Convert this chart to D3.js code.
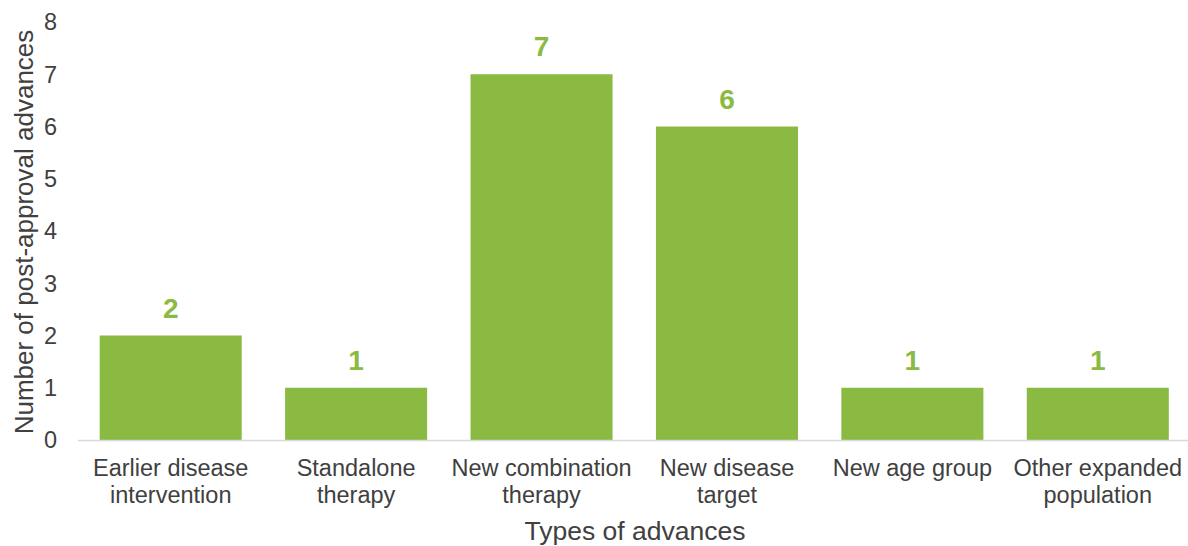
<!DOCTYPE html>
<html>
<head>
<meta charset="utf-8">
<script src="https://cdn.jsdelivr.net/npm/d3@7"></script>
<style>
  body { margin: 0; background: #fff; }
  svg { display: block; font-family: "Liberation Sans", Arial, sans-serif; }
</style>
</head>
<body>
<svg width="1188" height="546"></svg>
<script>
let categories = [
  ['Earlier disease', 'intervention'],
  ['Standalone', 'therapy'],
  ['New combination', 'therapy'],
  ['New disease', 'target'],
  ['New age group'],
  ['Other expanded', 'population']
];
let values = [2, 1, 7, 6, 1, 1];
let yTicks = [0, 1, 2, 3, 4, 5, 6, 7, 8];

let green = '#8aba42';
let textColor = '#404040';

let svg = d3.select('svg');

let xScale = d3.scaleBand()
  .domain(d3.range(categories.length))
  .range([78, 1190.5])
  .paddingInner(0.234)
  .paddingOuter(0.117);

let yScale = d3.scaleLinear()
  .domain([0, 8])
  .range([440, 22]);

// y tick labels
svg.append('g')
  .selectAll('text')
  .data(yTicks)
  .enter()
  .append('text')
  .attr('x', 57)
  .attr('y', d => yScale(d))
  .attr('dy', '0.36em')
  .style('text-anchor', 'end')
  .style('font-size', '23.5px')
  .style('fill', textColor)
  .text(d => d);

// bars
svg.selectAll('rect.bar')
  .data(values)
  .enter()
  .append('rect')
  .classed('bar', true)
  .attr('x', (d, i) => xScale(i))
  .attr('y', d => yScale(d))
  .attr('width', xScale.bandwidth())
  .attr('height', d => yScale(0) - yScale(d))
  .style('fill', green);

// baseline
svg.append('line')
  .attr('x1', 78)
  .attr('x2', 1188)
  .attr('y1', yScale(0) + 0.5)
  .attr('y2', yScale(0) + 0.5)
  .style('stroke', '#d9d9d9')
  .style('stroke-width', 1.5);

// value labels
svg.selectAll('text.value')
  .data(values)
  .enter()
  .append('text')
  .classed('value', true)
  .attr('x', (d, i) => xScale(i) + xScale.bandwidth() / 2)
  .attr('y', d => yScale(d) - 18)
  .style('text-anchor', 'middle')
  .style('font-size', '28px')
  .style('font-weight', 'bold')
  .style('fill', green)
  .text(d => d);

// category labels
let cat = svg.selectAll('text.cat')
  .data(categories)
  .enter()
  .append('text')
  .classed('cat', true)
  .attr('x', (d, i) => xScale(i) + xScale.bandwidth() / 2)
  .attr('y', 476)
  .style('text-anchor', 'middle')
  .style('font-size', '23.5px')
  .style('fill', textColor);

cat.selectAll('tspan')
  .data(d => d)
  .enter()
  .append('tspan')
  .attr('x', function() { return d3.select(this.parentNode).attr('x'); })
  .attr('dy', (d, i) => i === 0 ? 0 : 27)
  .text(d => d);

// axis titles
svg.append('text')
  .attr('x', 635)
  .attr('y', 540)
  .style('text-anchor', 'middle')
  .style('font-size', '26.5px')
  .style('fill', textColor)
  .text('Types of advances');

svg.append('text')
  .attr('transform', 'rotate(-90)')
  .attr('x', -232)
  .attr('y', 33)
  .style('text-anchor', 'middle')
  .style('font-size', '26px')
  .style('fill', textColor)
  .text('Number of post-approval advances');
</script>
</body>
</html>
